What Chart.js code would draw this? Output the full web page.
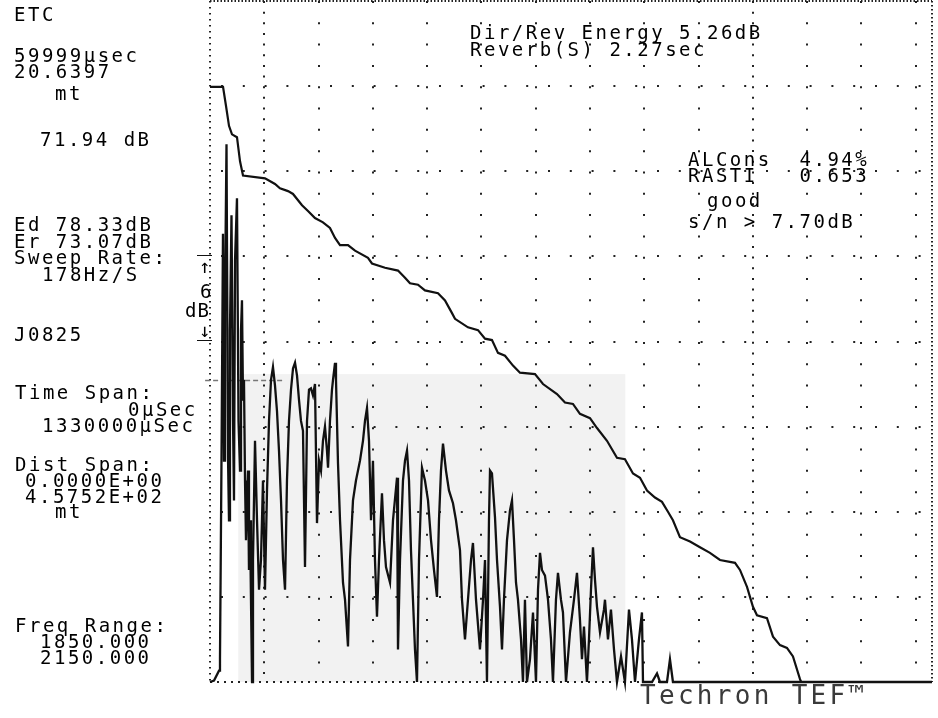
<!DOCTYPE html>
<html><head><meta charset="utf-8">
<script src="https://cdn.jsdelivr.net/npm/chart.js@4/dist/chart.umd.min.js"></script>
<style>
html,body{margin:0;padding:0;background:#fff;width:938px;height:718px;overflow:hidden}
#wrap{position:absolute;left:0;top:0;width:938px;height:718px}
.t{position:absolute;font-family:"DejaVu Sans Mono",monospace;font-size:19px;line-height:16px;letter-spacing:2.5px;color:#000;white-space:pre}
.big{font-size:26px;line-height:26px;letter-spacing:3.3px;color:#3a3a3a}
.m{font-size:19px;letter-spacing:0}
.bar{position:absolute;height:0;border-top:1.5px solid #111}
</style></head><body>
<div id="wrap"><canvas id="c" width="938" height="718"></canvas></div>

<div class="t" style="left:14px;top:6px">ETC</div>
<div class="t" style="left:14px;top:47px">59999µsec</div>
<div class="t" style="left:14px;top:63px">20.6397</div>
<div class="t" style="left:55px;top:85px">mt</div>
<div class="t" style="left:40px;top:131px">71.94 dB</div>
<div class="t" style="left:14px;top:216px">Ed 78.33dB</div>
<div class="t" style="left:14px;top:233px">Er 73.07dB</div>
<div class="t" style="left:14px;top:249px">Sweep Rate:</div>
<div class="t" style="left:42px;top:266px">178Hz/S</div>
<div class="t" style="left:14px;top:326px">J0825</div>
<div class="t" style="left:15px;top:384px">Time Span:</div>
<div class="t" style="left:128px;top:401px">0µSec</div>
<div class="t" style="left:42px;top:417px">1330000µSec</div>
<div class="t" style="left:15px;top:456px">Dist Span:</div>
<div class="t" style="left:25px;top:472px">0.0000E+00</div>
<div class="t" style="left:25px;top:488px">4.5752E+02</div>
<div class="t" style="left:55px;top:503px">mt</div>
<div class="t" style="left:15px;top:617px">Freq Range:</div>
<div class="t" style="left:40px;top:633px">1850.000</div>
<div class="t" style="left:40px;top:649px">2150.000</div>

<div class="t" style="left:470px;top:24px">Dir/Rev Energy 5.26dB</div>
<div class="t" style="left:470px;top:41px">Reverb(S) 2.27sec</div>
<div class="t" style="left:688px;top:151px">ALCons  4.94%</div>
<div class="t" style="left:688px;top:167px">RASTI   0.653</div>
<div class="t" style="left:707px;top:192px">good</div>
<div class="t" style="left:688px;top:213px">s/n > 7.70dB</div>

<div class="bar" style="left:197px;top:255px;width:15px"></div>
<div class="t m" style="left:199px;top:258px">↑</div>
<div class="t m" style="left:200px;top:283px">6</div>
<div class="t m" style="left:185px;top:302px;letter-spacing:1px">dB</div>
<div class="t m" style="left:199px;top:322px">↓</div>
<div class="bar" style="left:197px;top:340px;width:15px"></div>

<div class="t big" style="left:640px;top:682px">Techron TEF™</div>

<script>
// ---- data (time in ms, level in dB relative to top of screen) ----
const etcTimeMs = [
  0,7.4,16.6,18.4,21.2,23.9,25.8,27.6,30.4,33.2,
  35,36.8,39.6,42.4,44.2,46.1,49.7,52.5,55.3,57.1,
  58.9,60.8,62.6,64.5,66.3,70,71.8,73.7,75.5,77.4,
  79.2,82.9,86.6,90.3,93.9,97.6,101.3,105,108.7,112.4,
  116,119.7,123.4,127.1,130.8,134.5,138.2,141.8,145.5,149.2,
  152.9,156.6,160.3,163.9,167.6,171.3,175,178.7,182.4,186,
  189.7,193.4,197.1,200.8,204.5,208.1,211.8,215.5,217.4,221,
  224.7,226.6,230.3,232.1,235.8,239.5,245,248.7,254.2,257.9,
  263.4,268.9,276.3,281.8,285.5,289.2,292.9,296.6,300.2,303.9,
  307.6,311.3,316.8,320.5,324.2,331.6,337.1,344.5,346.3,350,
  355.5,359.2,362.9,366.6,370.2,373.9,377.6,381.3,385,390.5,
  396,401.6,407.1,412.6,418.1,421.8,425.5,429.2,434.7,440.2,
  447.6,453.1,460.5,464.2,469.7,475.2,480.8,484.4,490,497.3,
  502.9,506.6,510.2,513.9,515.8,519.4,525,528.7,534.2,537.9,
  541.5,547.1,552.6,556.3,560,563.7,567.3,572.9,576.5,580.2,
  583.9,589.4,595,600.5,604.2,607.9,611.5,617.1,622.6,628.1,
  631.8,637.3,641,646.5,650.2,655.8,663.1,670.5,676,681.5,
  685.2,688.9,694.4,698.1,701.8,705.5,709.2,712.9,718.4,725.7,
  727.6,733.1,738.6,744.2,749.7,757.1,764.4,771.8,777.3,782.9,
  790.2,795.7,797.6,814.2,823.4,828.9,841.8,847.3,852.8,1330
];
const etcLevelDb = [
  -48,-47.9,-47.2,-46.4,-32.2,-16.4,-32.4,-21.1,-10.1,-32.2,
  -36.6,-23.2,-15.1,-29.6,-35.2,-18.3,-13.9,-29.6,-33.1,-23.2,
  -21.1,-28.1,-26.7,-33.8,-38.0,-33.1,-40.1,-36.6,-42.2,-48,
  -39.4,-31.0,-36.6,-41.5,-39.4,-33.8,-41.5,-34.5,-29.6,-26.7,
  -25.8,-27.1,-28.9,-31.7,-35.2,-39.4,-41.5,-33.8,-29.6,-27.4,
  -25.9,-25.5,-26.4,-28.1,-29.6,-30.3,-39.9,-29.6,-27.4,-27.3,
  -27.8,-27.0,-36.8,-32.4,-33.1,-31.0,-30.0,-31.7,-32.9,-29.6,
  -27.4,-26.7,-25.5,-26.7,-32.6,-36.6,-41.0,-42.2,-45.5,-39.4,
  -35.2,-33.8,-32.4,-31.0,-29.6,-28.7,-31.0,-36.6,-32.4,-39.4,
  -43.4,-39.4,-34.7,-38.0,-39.9,-41.0,-36.6,-33.6,-45.7,-39.4,
  -33.8,-32.4,-31.7,-33.8,-38.7,-42.2,-45.7,-48,-39.4,-32.9,
  -33.8,-35.2,-38.0,-40.1,-42.0,-36.6,-33.1,-31.2,-33.1,-34.5,
  -35.4,-36.6,-38.7,-42.2,-45.0,-42.2,-39.4,-38.2,-42.2,-45.7,
  -42.2,-39.4,-48,-36.6,-33.1,-33.3,-36.4,-39.4,-42.7,-45.7,
  -42.2,-38.0,-35.9,-35.2,-38.0,-41.0,-42.2,-45.0,-48,-42.2,
  -48,-46.4,-43.1,-48,-41.5,-38.9,-40.1,-40.5,-42.2,-45.0,
  -48,-42.2,-40.3,-42.2,-43.1,-48,-44.5,-42.2,-40.3,-43.6,
  -46.4,-44.1,-48,-45.0,-41.5,-38.5,-40.8,-42.7,-44.5,-42.9,
  -42.2,-45.0,-42.9,-45.7,-48,-46.2,-48,-42.9,-45.0,-48,
  -45.0,-43.1,-48,-48,-47.4,-48,-48,-46.4,-48,-48
];
const schTimeMs = [
  0,24,29.5,35,40.5,49.7,55.3,60.8,101.3,119.7,
  128.9,143.7,152.9,169.5,180.5,193.4,208.1,221,230.3,239.5,
  254.2,267.1,291,298.4,322.4,346.3,359.2,368.4,383.1,396,
  420,432.9,445.8,451.3,475.2,493.7,506.6,519.4,530.5,543.4,
  558.1,571,598.7,613.4,639.2,653.9,668.6,681.5,700,712.9,
  731.3,749.7,764.4,779.2,792.1,805,819.7,832.6,843.6,852.8,
  865.7,884.2,902.6,921,939.4,967.1,976.3,989.2,994.7,1000.2,
  1007.6,1026,1037.1,1050,1062.8,1073.9,1086.8,1089
];
const schLevelDb = [
  -6.05,-6.05,-7.4,-8.8,-9.4,-9.6,-11.3,-12.3,-12.5,-12.9,
  -13.2,-13.4,-13.6,-14.4,-14.8,-15.3,-15.6,-16.0,-16.7,-17.2,
  -17.2,-17.6,-18.1,-18.5,-18.8,-19.0,-19.5,-19.9,-20.0,-20.4,
  -20.6,-21.1,-22.0,-22.4,-23.0,-23.2,-23.8,-23.9,-24.8,-25.0,
  -25.7,-26.2,-26.3,-27.0,-27.7,-28.3,-28.4,-29.1,-29.4,-30.1,
  -31.0,-32.2,-32.3,-33.3,-33.6,-34.5,-35.0,-35.3,-36.0,-36.6,
  -37.8,-38.1,-38.5,-38.9,-39.4,-39.6,-40.1,-41.3,-42.0,-42.7,
  -43.3,-43.5,-44.8,-45.4,-45.6,-46.2,-47.8,-48
];
const markerTimeMs = [-9, 133];
const markerLevelDb = [-26.75, -26.75];
const xGridMs = [0,100,200,300,400,500,600,700,800,900,1000,1100,1200,1300,1330];
const yGridDb = [-48,-42,-36,-30,-24,-18,-12,-6,0];
const cursorMs = [100, 1000];

const pts = (xs, ys) => xs.map((x, i) => ({x, y: ys[i]}));

const shade = {
  id: 'shade',
  beforeDraw(chart) {
    const {ctx, scales: {x, y}} = chart;
    ctx.save();
    ctx.fillStyle = '#f2f2f2';
    const x0 = x.getPixelForValue(52), x1 = x.getPixelForValue(765);
    const y0 = y.getPixelForValue(-26.3), y1 = y.getPixelForValue(-48);
    ctx.fillRect(x0, y0, x1 - x0, y1 - y0);
    ctx.restore();
  }
};

new Chart(document.getElementById('c'), {
  type: 'line',
  data: {
    datasets: [
      {label: 'ETC', data: pts(etcTimeMs, etcLevelDb), borderColor: '#111', borderWidth: 2.3,
       pointRadius: 0, tension: 0, clip: false},
      {label: 'Schroeder integral', data: pts(schTimeMs, schLevelDb), borderColor: '#111', borderWidth: 2.2,
       pointRadius: 0, tension: 0, clip: false},
      {label: 'Threshold', data: pts(markerTimeMs, markerLevelDb), borderColor: '#777', borderWidth: 1.5,
       borderDash: [5, 3], pointRadius: 0, clip: false}
    ]
  },
  options: {
    responsive: false,
    animation: false,
    events: [],
    layout: {padding: {left: 210, right: 6, top: 1, bottom: 36}},
    plugins: {legend: {display: false}, tooltip: {enabled: false}, title: {display: false}},
    scales: {
      x: {
        type: 'linear', min: 0, max: 1330,
        afterFit(s) { s.height = 0; },
        afterBuildTicks(s) { s.ticks = xGridMs.map(v => ({value: v})); },
        ticks: {display: false},
        grid: {drawTicks: false, tickLength: 0, color: '#222', lineWidth: 2},
        border: {
          display: false,
          dash: c => {
            const v = c.tick ? c.tick.value : null;
            if (v === 0) return [1.5, 4.5];
            if (v === 1330) return [1.5, 2.5];
            if (cursorMs.includes(v)) return [2, 8.65];
            return [2, 19.31];
          }
        }
      },
      y: {
        type: 'linear', min: -48, max: 0,
        afterFit(s) { s.width = 0; },
        afterBuildTicks(s) { s.ticks = yGridDb.map(v => ({value: v})); },
        ticks: {display: false},
        grid: {drawTicks: false, tickLength: 0, color: '#222', lineWidth: 2},
        border: {
          display: false,
          dash: c => {
            const v = c.tick ? c.tick.value : null;
            if (v === 0) return [1.5, 2];
            if (v === -48) return [2, 5];
            return [2, 19.8];
          },
          dashOffset: c => (c.tick && (c.tick.value === 0 || c.tick.value === -48)) ? 0 : 10.8
        }
      }
    }
  },
  plugins: [shade]
});
</script>
</body></html>
